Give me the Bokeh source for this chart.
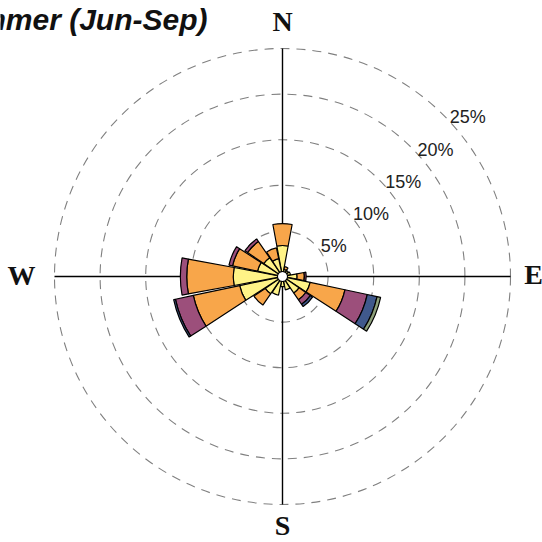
from bokeh.plotting import figure
from bokeh.models import Range1d, ColumnDataSource
from bokeh.core.properties import value
from bokeh.embed import file_html
from bokeh.resources import INLINE
import math

# ---- data (percent of time, per direction and speed class) ----
directions = ["N", "NNE", "NE", "ENE", "E", "ESE", "SE", "SSE",
              "S", "SSW", "SW", "WSW", "W", "WNW", "NW", "NNW"]
dir_degrees = [0, 22.5, 45, 67.5, 90, 112.5, 135, 157.5,
               180, 202.5, 225, 247.5, 270, 292.5, 315, 337.5]
speed_classes = ["class 1", "class 2", "class 3", "class 4", "class 5"]
class_colors = ["#FFF387", "#F8A64A", "#9C4F7B", "#40598C", "#8DA07A"]

class1 = [3.4, 0.8, 0.8, 0.9, 1.6, 3.1, 2.2, 1.5, 1.1, 2.1, 2.3, 4.8, 5.4, 2.8, 2.5, 2.0]
class2 = [2.4, 0.3, 0.0, 0.0, 0.8, 3.9, 0.9, 0.0, 0.0, 0.0, 1.5, 5.2, 5.1, 2.8, 2.15, 1.2]
class3 = [0.0, 0.0, 0.0, 0.0, 0.2, 2.5, 0.6, 0.0, 0.0, 0.0, 0.0, 2.0, 0.7, 0.4, 0.35, 0.0]
class4 = [0.0, 0.0, 0.0, 0.0, 0.0, 1.1, 0.3, 0.0, 0.0, 0.0, 0.0, 0.2, 0.0, 0.0, 0.0, 0.0]
class5 = [0.0, 0.0, 0.0, 0.0, 0.0, 0.4, 0.0, 0.0, 0.0, 0.0, 0.0, 0.0, 0.0, 0.0, 0.0, 0.0]

ring_levels = [5, 10, 15, 20, 25]
ring_labels = ["5%", "10%", "15%", "20%", "25%"]
compass_labels = ["N", "E", "S", "W"]
title_text = "Summer (Jun-Sep)"

# ---- layout ----
W, H = 542, 542
K = 9.12            # px per percent
CX, CY = 282, 276   # centre in canvas px
HOLE = 0.55
WEDGE_W = 21.0

p = figure(width=W, height=H, output_backend="svg", toolbar_location=None,
           x_range=Range1d(-CX / K, (W - CX) / K),
           y_range=Range1d(-(H - CY) / K, CY / K),
           min_border=0, outline_line_color=None, background_fill_color="white")
p.xaxis.visible = False
p.yaxis.visible = False
p.xgrid.visible = False
p.ygrid.visible = False

# rings
p.circle(x=[0] * len(ring_levels), y=[0] * len(ring_levels), radius=ring_levels,
         fill_color=None, line_color="#808080", line_width=1.1, line_dash="9 7")

# axes lines
rmax = max(ring_levels)
p.segment(x0=[-rmax, 0], y0=[0, -rmax], x1=[rmax, 0], y1=[0, rmax],
          line_color="black", line_width=1.4)

# hole
p.circle(x=[0], y=[0], radius=HOLE, fill_color="white", line_color=None)

# stacked wedges
all_classes = [class1, class2, class3, class4, class5]
xs, ys, inner, outer, sa, ea, cols = [], [], [], [], [], [], []
for i, d in enumerate(dir_degrees):
    cum = 0.0
    for c, vals in enumerate(all_classes):
        v = vals[i]
        if v <= 0:
            continue
        lo = max(cum, HOLE)
        cum += v
        xs.append(0); ys.append(0)
        inner.append(lo); outer.append(cum)
        mid = 90 - d
        sa.append(mid - WEDGE_W / 2); ea.append(mid + WEDGE_W / 2)
        cols.append(class_colors[c])

src = ColumnDataSource(dict(x=xs, y=ys, ir=inner, orr=outer, sa=sa, ea=ea, c=cols))
p.annular_wedge(x="x", y="y", inner_radius="ir", outer_radius="orr",
                start_angle="sa", end_angle="ea", start_angle_units="deg",
                end_angle_units="deg", fill_color="c", line_color="black",
                line_width=1.2, source=src)

# ring labels at 45 degrees
lx = [r * math.cos(math.radians(45)) + 6 / K for r in ring_levels]
ly = [r * math.sin(math.radians(45)) - 2 / K for r in ring_levels]
p.text(x=lx, y=ly, text=ring_labels, text_font=value("Liberation Sans"),
       text_font_size="18px", text_color="#222222", text_align="left",
       text_baseline="middle")

# compass labels
cxs = [0, 251 / K, 0, -261 / K]
cys = [255 / K, 2 / K, -249 / K, 1 / K]
p.text(x=cxs, y=cys, text=compass_labels, text_font=value("Liberation Serif"),
       text_font_size="28px", text_font_style="bold", text_color="#111111",
       text_align="center", text_baseline="middle")

# title (clipped at left edge as in the original)
p.text(x=[(207 - CX) / K], y=[(CY - 19) / K], text=[title_text],
       text_font=value("Liberation Sans"), text_font_size="30px",
       text_font_style="bold italic", text_color="#111111",
       text_align="right", text_baseline="alphabetic")

open("out.html", "w").write(file_html(p, INLINE))
